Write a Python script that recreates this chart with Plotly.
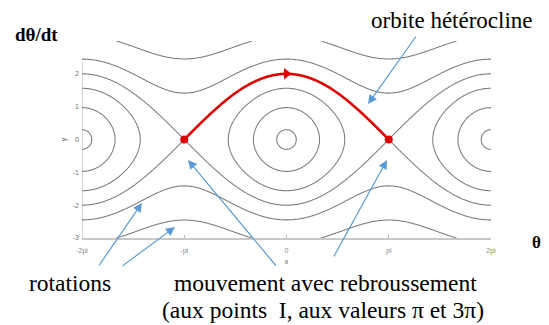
import numpy as np
import plotly.graph_objects as go

PI = np.pi

# ---- data ----
# pendulum phase portrait: energy levels E = (dθ/dt)^2/2 - cos θ of drawn orbits
closed_orbit_amplitudes = [0.30, 0.97, 1.56]   # dθ/dt at θ = 0 for libration orbits
separatrix_energy = [1.0]                       # heteroclinic orbit level
rotation_speeds_at_pi = [1.41, 2.45]            # |dθ/dt| at θ = ±π for rotation orbits

saddle_theta = [-PI, PI]      # points I (rebroussement)
saddle_omega = [0.0, 0.0]
arc_peak_theta = [0.0]        # arrow on heteroclinic orbit
arc_peak_omega = [2.0]

x_tickvals = [-2 * PI, -PI, 0, PI, 2 * PI]
x_ticktext = ["-2pi", "-pi", "0", "pi", "2pi"]
y_tickvals = [-3, -2, -1, 0, 1, 2]
y_ticktext = ["-3", "-2", "-1", "0", "1", "2"]

levels = ([a * a / 2 - 1 for a in closed_orbit_amplitudes] + separatrix_energy
          + [v * v / 2 + 1 for v in rotation_speeds_at_pi])

# ---- geometry of the plot (pixels) ----
W, H = 549, 325
L, R, T, B = 82, 58, 41, 87
PW, PH = W - L - R, H - T - B


def px(xp):
    return (xp - L) / PW


def py(yp):
    return (H - B - yp) / PH


fig = go.Figure()

# energy field
th = np.linspace(-2 * PI, 2 * PI, 481)
om = np.linspace(-3, 3, 361)
TH, OM = np.meshgrid(th, om)
E = OM ** 2 / 2 - np.cos(TH)
lev_ext = [-1.5] + levels + [10.0]
idx_ext = list(range(-1, len(levels) + 1))
Z = np.interp(E, lev_ext, idx_ext)

fig.add_trace(go.Contour(
    x=th, y=om, z=np.round(Z, 4),
    contours=dict(start=0, end=len(levels) - 1, size=1, coloring="lines"),
    colorscale=[[0, "#7a7a7a"], [1, "#7a7a7a"]],
    line=dict(width=1.05), showscale=False, hoverinfo="skip",
))

# heteroclinic orbit in red (upper separatrix between the two saddles)
th2 = np.linspace(saddle_theta[0], saddle_theta[1], 241)
om2 = np.linspace(0, 3, 121)
TH2, OM2 = np.meshgrid(th2, om2)
E2 = OM2 ** 2 / 2 - np.cos(TH2)
fig.add_trace(go.Contour(
    x=th2, y=om2, z=np.round(E2, 6),
    contours=dict(start=separatrix_energy[0], end=separatrix_energy[0], size=1,
                  coloring="lines"),
    colorscale=[[0, "#e00000"], [1, "#e00000"]],
    line=dict(width=2.6), showscale=False, hoverinfo="skip",
))

fig.add_trace(go.Scatter(
    x=saddle_theta, y=saddle_omega, mode="markers",
    marker=dict(color="#e00000", size=8), hoverinfo="skip", showlegend=False,
))
fig.add_trace(go.Scatter(
    x=arc_peak_theta, y=arc_peak_omega, mode="markers",
    marker=dict(color="#e00000", size=10, symbol="triangle-right"),
    hoverinfo="skip", showlegend=False,
))

# y axis line (drawn only up to ~2.37 as in the original)
fig.add_shape(type="line", xref="x", yref="y", x0=-2 * PI, x1=-2 * PI, y0=-3, y1=2.37,
              line=dict(color="#c8c8c8", width=1.5), layer="below")

serif = "Liberation Serif"
ann = []


def text(t, xp, yp, size, bold=False, xanchor="center"):
    ann.append(dict(text=("<b>%s</b>" % t) if bold else t, x=px(xp), y=py(yp),
                    xref="paper", yref="paper", showarrow=False, xanchor=xanchor,
                    yanchor="middle", font=dict(family=serif, size=size, color="black")))


def arrow(head, tail):
    ann.append(dict(text="", x=px(head[0]), y=py(head[1]), xref="paper", yref="paper",
                    ax=tail[0] - head[0], ay=tail[1] - head[1], showarrow=True,
                    arrowhead=2, arrowsize=1.5, arrowwidth=1.2, arrowcolor="#5b9bd5",
                    standoff=0, startstandoff=0))


text("dθ/dt", 36, 35, 19, bold=True)
text("θ", 536, 242, 17, bold=True)
text("orbite hétérocline", 452, 20, 23)
text("rotations", 70, 283, 23.5)
text("mouvement avec rebroussement", 325, 283, 23.5)
text("(aux points  I, aux valeurs π et 3π)", 323, 310, 23.5)

arrow((368, 104), (417, 35))
arrow((142, 203), (98, 267))
arrow((175, 227), (121, 267))
arrow((188, 160), (277, 267))
arrow((387, 160), (333, 258))

fig.update_layout(
    width=W, height=H, autosize=False,
    margin=dict(l=L, r=R, t=T, b=B, pad=0, autoexpand=False),
    paper_bgcolor="white", plot_bgcolor="white",
    showlegend=False, annotations=ann,
    xaxis=dict(range=[-2 * PI, 2 * PI], tickvals=x_tickvals, ticktext=x_ticktext,
               automargin=False,
               showgrid=False, zeroline=False, showline=True, linecolor="#c8c8c8",
               linewidth=1.5, ticks="inside", ticklen=3, tickcolor="#bbbbbb",
               ticklabelstandoff=5,
               tickfont=dict(family="Liberation Sans", size=7, color="#888888"),
               title=dict(text="x", font=dict(family="Liberation Sans", size=7,
                                              color="#555555"), standoff=5)),
    yaxis=dict(range=[-3, 3], tickvals=y_tickvals, ticktext=y_ticktext,
               automargin=False,
               showgrid=False, zeroline=False, showline=False, ticks="",
               ticklabelstandoff=2,
               tickfont=dict(family="Liberation Sans", size=7, color="#777777"),
               title=dict(text="y", font=dict(family="Liberation Sans", size=7,
                                              color="#555555"), standoff=5)),
)

fig.write_html(
    "out.html",
    config={"displayModeBar": False},
    post_script="document.body.style.margin='0';document.body.style.padding='0';",
)
